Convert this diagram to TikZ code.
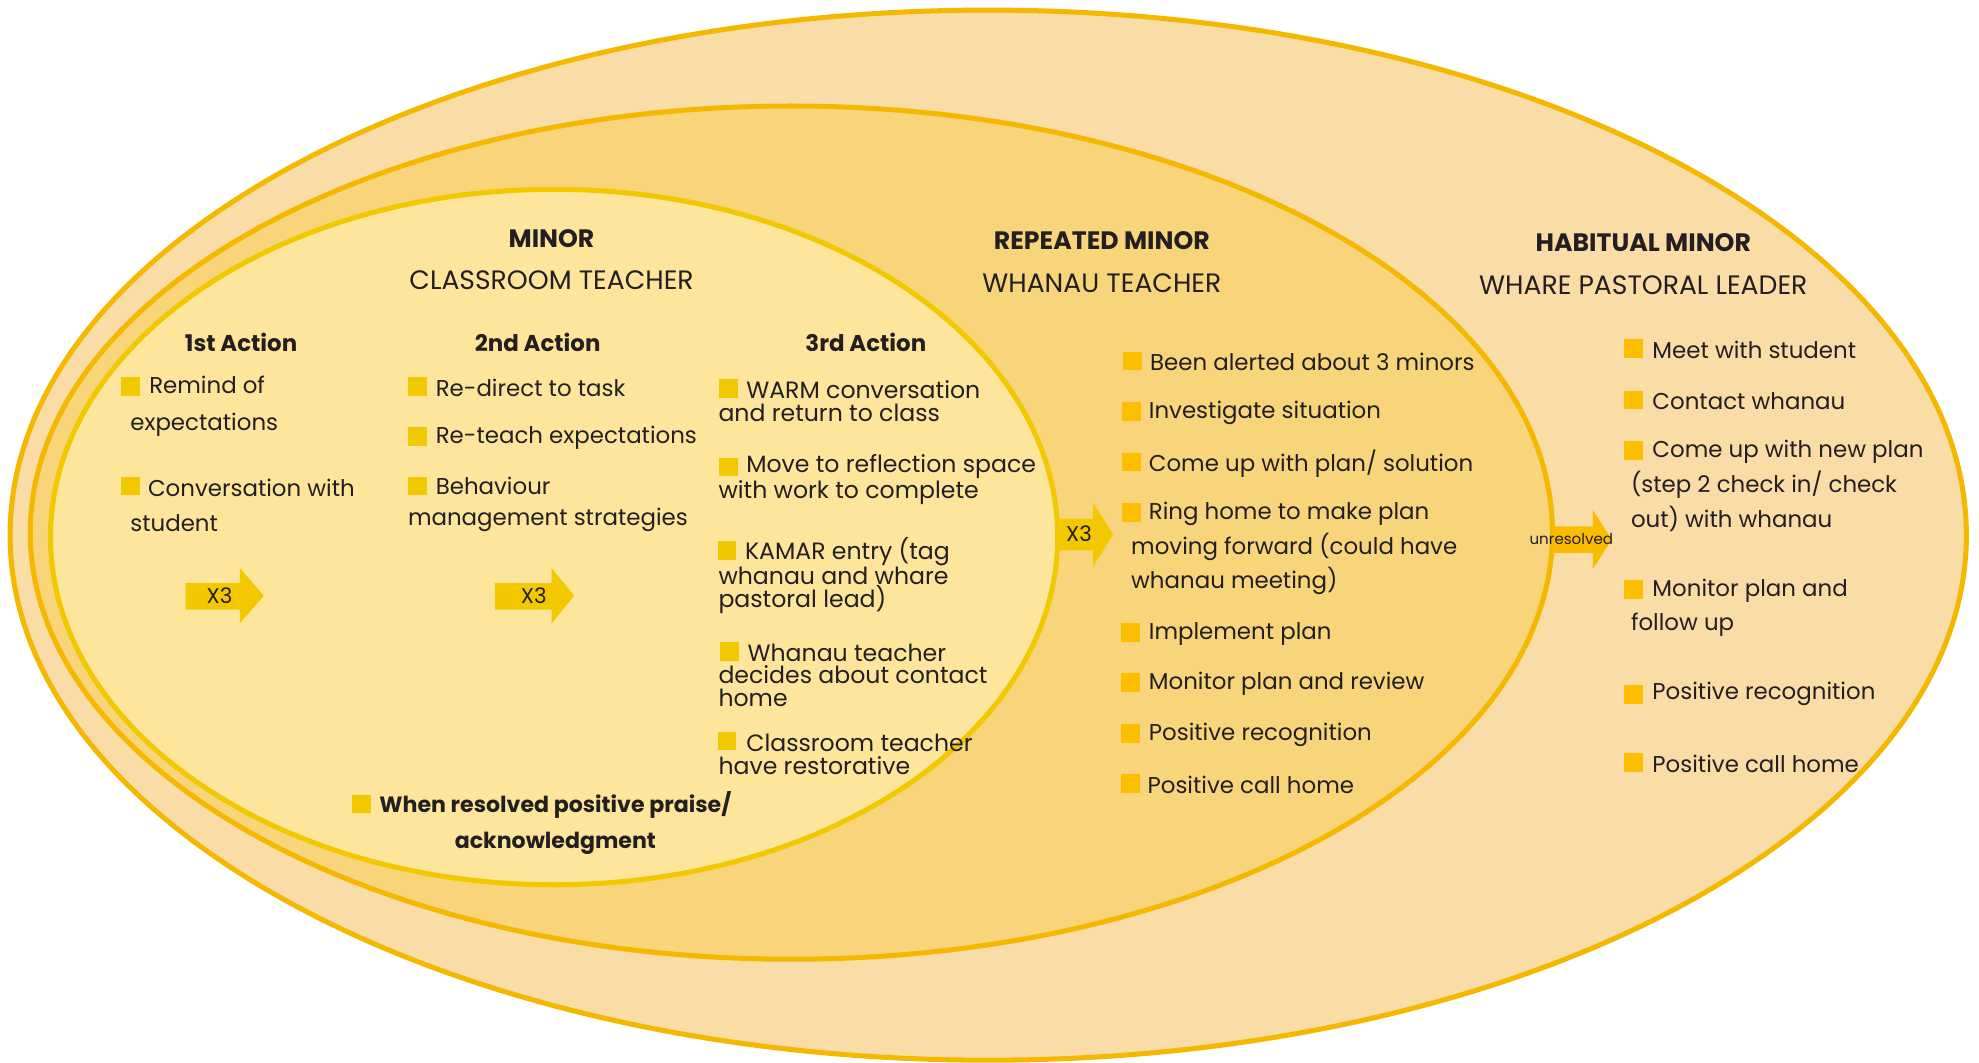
\documentclass[tikz,border=0pt]{standalone}
\usepackage{fontspec}
\setmainfont{Poppins}
\usetikzlibrary{positioning}
\definecolor{outerfill}{RGB}{250,220,166}
\definecolor{midfill}{RGB}{248,213,122}
\definecolor{innerfill}{RGB}{253,230,155}
\definecolor{ringline}{RGB}{245,184,0}
\definecolor{innerline}{RGB}{242,200,0}
\definecolor{sqyellow}{RGB}{242,200,0}
\definecolor{sqorange}{RGB}{253,190,0}
\definecolor{arrowyel}{RGB}{244,200,0}
\definecolor{arroworange}{RGB}{249,188,0}
\definecolor{inkgray}{RGB}{35,31,32}
\newlength\px
\setlength\px{0.25mm}
\begin{document}
\begin{tikzpicture}[x=0.025cm,y=-0.025cm,
    body/.style={anchor=west,inner sep=0pt,align=left,text=inkgray,font=\fontsize{12.9}{19.5}\selectfont},
    tight/.style={body,font=\fontsize{13.3}{12.8}\selectfont},
    head/.style={inner sep=0pt,text=inkgray,font=\fontsize{15}{17}\selectfont},
    bhead/.style={head,font=\fontsize{14.2}{17}\selectfont\bfseries},
    act/.style={head,font=\fontsize{12.9}{15}\selectfont\bfseries},
    sqin/.style={fill=sqyellow,minimum size=3.7mm,inner sep=0pt},
    sqout/.style={sqin,fill=sqorange},
    tag/.style={inner sep=0pt,text=inkgray,font=\fontsize{12}{14}\selectfont}]
    \useasboundingbox (0,0) rectangle (1568,842);
    % nested ellipses
    \filldraw[fill=outerfill, draw=ringline, line width=1mm] (783,424) ellipse [x radius=775, y radius=416];
    \filldraw[fill=midfill, draw=ringline, line width=1mm] (627,422) ellipse [x radius=603, y radius=338];
    \fill[innerfill] (439,425.5) ellipse [x radius=399, y radius=275.5];
    \fill[arrowyel] (836,411) -- (866,411) -- (866,398) -- (882,423.5) -- (866,449) -- (866,436) -- (836,436) -- cycle;
    \draw[innerline, line width=1mm] (439,425.5) ellipse [x radius=399, y radius=275.5];
    % block arrows
    \fill[arrowyel] (147,462) -- (190,462) -- (190,450) -- (209,472) -- (190,494) -- (190,483) -- (147,483) -- cycle;
    \fill[arrowyel] (392,462) -- (437,462) -- (437,450) -- (455,472) -- (437,494) -- (437,483) -- (392,483) -- cycle;
    \fill[arroworange] (1230,417) -- (1262,417) -- (1262,404) -- (1277,427.5) -- (1262,451) -- (1262,438) -- (1230,438) -- cycle;
    \node[tag] (xa) at (174,472) {X3};
    \node[tag] (xb) at (423,472) {X3};
    \node[tag] (xc) at (855,423) {X3};
    \node[tag, font=\fontsize{8.5}{9}\selectfont] (unres) at (1245,427) {unresolved};

    % titles
    \node[bhead] (minor) at (437,189) {MINOR};
    \node[head] (minorwho) at (437,222) {CLASSROOM TEACHER};
    \node[bhead] (rep) at (873,191) {REPEATED MINOR};
    \node[head] (repwho) at (873,224) {WHANAU TEACHER};
    \node[bhead] (hab) at (1302,192) {HABITUAL MINOR};
    \node[head] (habwho) at (1302,226) {WHARE PASTORAL LEADER};
    \node[act] (act1) at (191,271) {1st Action};
    \node[act] (act2) at (426,271) {2nd Action};
    \node[act] (act3) at (686,271) {3rd Action};

    % 1st action
    \node[sqin] (sqa1) at (103.5,306) {};
    \node[body, font=\fontsize{12.9}{21}\selectfont] (ta1) at (103,322) {\hspace*{15\px}Remind of\\expectations};
    \node[sqin] (sqa2) at (103.5,385) {};
    \node[body] (ta2) at (103,400.5) {\hspace*{14\px}Conversation with\\student};

    % 2nd action
    \node[sqin] (sqb1) at (331,306) {};
    \node[body] (tb1) at (345,307) {Re-direct to task};
    \node[sqin] (sqb2) at (331,346) {};
    \node[body] (tb2) at (345,347) {Re-teach expectations};
    \node[sqin] (sqb3) at (331,385) {};
    \node[body, font=\fontsize{12.9}{17.8}\selectfont] (tb3) at (323,399.5) {\hspace*{22\px}Behaviour\\management strategies};

    % 3rd action
    \node[sqin] (sqc1) at (577,308) {};
    \node[tight] (tc1) at (569,318) {\hspace*{22\px}WARM conversation\\and return to class};
    \node[sqin] (sqc2) at (577,370) {};
    \node[tight] (tc2) at (569,380) {\hspace*{22\px}Move to reflection space\\with work to complete};
    \node[sqin] (sqc3) at (576,436) {};
    \node[tight] (tc3) at (569,456) {\hspace*{21\px}KAMAR entry (tag\\whanau and whare\\pastoral lead)};
    \node[sqin] (sqc4) at (578,516) {};
    \node[tight] (tc4) at (569,535) {\hspace*{23\px}Whanau teacher\\decides about contact\\home};
    \node[sqin] (sqc5) at (576,587) {};
    \node[tight] (tc5) at (569,597.5) {\hspace*{22\px}Classroom teacher\\have restorative};

    \node[sqin] (sqd) at (286.5,637) {};
    \node[body, anchor=center, align=center, font=\fontsize{12.45}{20.6}\selectfont\bfseries] (praise) at (440,652) {When resolved positive praise/\\acknowledgment};

    % repeated minor
    \node[sqout] (sqe1) at (897.5,286) {};
    \node[body] (te1) at (911,287) {Been alerted about 3 minors};
    \node[sqout] (sqe2) at (896.5,326) {};
    \node[body] (te2) at (910,327) {Investigate situation};
    \node[sqout] (sqe3) at (896.5,366) {};
    \node[body] (te3) at (910,367) {Come up with plan/ solution};
    \node[sqout] (sqe4) at (896.5,406) {};
    \node[body] (te4) at (896,434.5) {\hspace*{14\px}Ring home to make plan\\moving forward (could have\\whanau meeting)};
    \node[sqout] (sqe5) at (895.5,501) {};
    \node[body] (te5) at (910,502) {Implement plan};
    \node[sqout] (sqe6) at (895.5,541) {};
    \node[body] (te6) at (910,542) {Monitor plan and review};
    \node[sqout] (sqe7) at (895.5,581) {};
    \node[body] (te7) at (910,582) {Positive recognition};
    \node[sqout] (sqe8) at (895.5,621) {};
    \node[body] (te8) at (909,622) {Positive call home};

    % habitual minor
    \node[sqout] (sqf1) at (1294.5,276) {};
    \node[body] (tf1) at (1309,277) {Meet with student};
    \node[sqout] (sqf2) at (1294.5,317) {};
    \node[body] (tf2) at (1309,318) {Contact whanau};
    \node[sqout] (sqf3) at (1294.5,357) {};
    \node[body] (tf3) at (1292,385) {\hspace*{17\px}Come up with new plan\\(step 2 check in/ check\\out) with whanau};
    \node[sqout] (sqf4) at (1294.5,467) {};
    \node[body] (tf4) at (1292,481.5) {\hspace*{17\px}Monitor plan and\\follow up};
    \node[sqout] (sqf5) at (1294.5,550) {};
    \node[body] (tf5) at (1309,550) {Positive recognition};
    \node[sqout] (sqf6) at (1294.5,604) {};
    \node[body] (tf6) at (1309,605) {Positive call home};
\end{tikzpicture}
\end{document}
